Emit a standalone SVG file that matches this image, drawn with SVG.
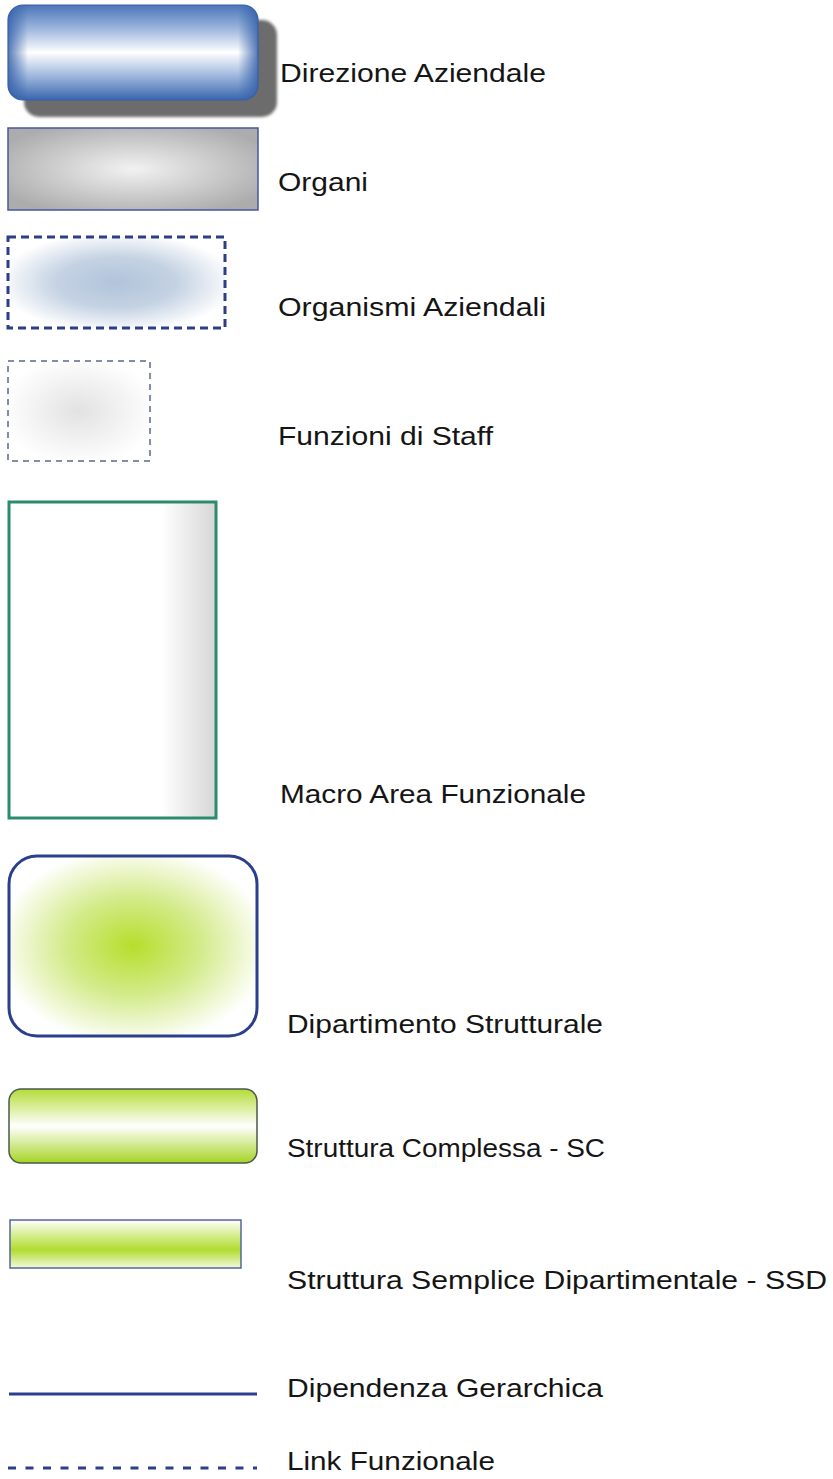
<svg xmlns="http://www.w3.org/2000/svg" width="833" height="1479" viewBox="0 0 833 1479">
<style>
.lbl{font-family:"Liberation Sans",Arial,sans-serif;font-size:25px;fill:#151515}
</style>
<defs>
<linearGradient id="gDirV" x1="0" y1="0" x2="0" y2="1">
<stop offset="0" stop-color="#4a76ba"/>
<stop offset="0.25" stop-color="#9db6dc"/>
<stop offset="0.5" stop-color="#ffffff"/>
<stop offset="0.75" stop-color="#9db6dc"/>
<stop offset="1" stop-color="#3866ad"/>
</linearGradient>
<linearGradient id="gDirH" x1="0" y1="0" x2="1" y2="0">
<stop offset="0" stop-color="#3561aa" stop-opacity="0.85"/>
<stop offset="0.08" stop-color="#3561aa" stop-opacity="0"/>
<stop offset="0.92" stop-color="#3561aa" stop-opacity="0"/>
<stop offset="1" stop-color="#3561aa" stop-opacity="0.85"/>
</linearGradient>
<filter id="blur" x="-10%" y="-10%" width="120%" height="120%">
<feGaussianBlur stdDeviation="1.5"/>
</filter>
<radialGradient id="gOrg" cx="0.5" cy="0.5" r="0.6">
<stop offset="0" stop-color="#f2f2f2"/>
<stop offset="1" stop-color="#acacac"/>
</radialGradient>
<radialGradient id="gOrgz" cx="0.5" cy="0.5" r="0.55">
<stop offset="0" stop-color="#b2c4da"/>
<stop offset="0.5" stop-color="#c4d2e3"/>
<stop offset="1" stop-color="#ffffff"/>
</radialGradient>
<radialGradient id="gStaff" cx="0.5" cy="0.5" r="0.55">
<stop offset="0" stop-color="#e2e2e2"/>
<stop offset="1" stop-color="#ffffff"/>
</radialGradient>
<linearGradient id="gMacro" x1="0" y1="0" x2="1" y2="0">
<stop offset="0" stop-color="#ffffff"/>
<stop offset="0.74" stop-color="#ffffff"/>
<stop offset="1" stop-color="#d6d6d6"/>
</linearGradient>
<radialGradient id="gDip" cx="0.5" cy="0.5" r="0.55">
<stop offset="0" stop-color="#b6de2c"/>
<stop offset="0.5" stop-color="#d4eb8c"/>
<stop offset="1" stop-color="#ffffff"/>
</radialGradient>
<linearGradient id="gSC" x1="0" y1="0" x2="0" y2="1">
<stop offset="0" stop-color="#b4dc38"/>
<stop offset="0.5" stop-color="#ffffff"/>
<stop offset="1" stop-color="#a6d424"/>
</linearGradient>
<linearGradient id="gSSD" x1="0" y1="0" x2="0" y2="1">
<stop offset="0" stop-color="#ffffff"/>
<stop offset="0.3" stop-color="#d8ee94"/>
<stop offset="0.62" stop-color="#b0dc30"/>
<stop offset="1" stop-color="#f3f9dc"/>
</linearGradient>
</defs>

<g id="direzione-aziendale">
<rect x="24" y="20" width="253" height="97" rx="15" fill="#6c6c6c" filter="url(#blur)"/>
<rect x="8" y="5" width="250" height="95" rx="15" fill="url(#gDirV)"/>
<rect x="8" y="5" width="250" height="95" rx="15" fill="url(#gDirH)" stroke="#3a5ea8" stroke-width="1.2"/>
<text class="lbl" x="280" y="82" textLength="266" lengthAdjust="spacingAndGlyphs">Direzione Aziendale</text>
</g>

<g id="organi">
<rect x="8" y="128" width="250" height="82" fill="url(#gOrg)" stroke="#4a55a0" stroke-width="1.5"/>
<text class="lbl" x="278" y="191" textLength="90" lengthAdjust="spacingAndGlyphs">Organi</text>
</g>

<g id="organismi-aziendali">
<rect x="8" y="237" width="217" height="91" fill="url(#gOrgz)" stroke="#2c3e86" stroke-width="3" stroke-dasharray="8 5"/>
<text class="lbl" x="278" y="316" textLength="268" lengthAdjust="spacingAndGlyphs">Organismi Aziendali</text>
</g>

<g id="funzioni-di-staff">
<rect x="8" y="361" width="142" height="100" fill="url(#gStaff)" stroke="#5a6890" stroke-width="1.5" stroke-dasharray="6 5"/>
<text class="lbl" x="278" y="445" textLength="215" lengthAdjust="spacingAndGlyphs">Funzioni di Staff</text>
</g>

<g id="macro-area-funzionale">
<rect x="9" y="502" width="207" height="316" fill="url(#gMacro)" stroke="#2e8a6c" stroke-width="3"/>
<text class="lbl" x="280" y="803" textLength="306" lengthAdjust="spacingAndGlyphs">Macro Area Funzionale</text>
</g>

<g id="dipartimento-strutturale">
<rect x="9" y="856" width="248" height="180" rx="28" fill="url(#gDip)" stroke="#2c3f8c" stroke-width="3"/>
<text class="lbl" x="287" y="1033" textLength="316" lengthAdjust="spacingAndGlyphs">Dipartimento Strutturale</text>
</g>

<g id="struttura-complessa">
<rect x="9" y="1089" width="248" height="74" rx="12" fill="url(#gSC)" stroke="#4a5a48" stroke-width="1.5"/>
<text class="lbl" x="287" y="1157" textLength="318" lengthAdjust="spacingAndGlyphs">Struttura Complessa - SC</text>
</g>

<g id="struttura-semplice-dipartimentale">
<rect x="10" y="1220" width="231" height="48" fill="url(#gSSD)" stroke="#5565a0" stroke-width="1.5"/>
<text class="lbl" x="287" y="1289" textLength="540" lengthAdjust="spacingAndGlyphs">Struttura Semplice Dipartimentale - SSD</text>
</g>

<g id="connectors">
<line x1="9" y1="1394" x2="257" y2="1394" stroke="#2c3f8c" stroke-width="3"/>
<line x1="8" y1="1468" x2="257" y2="1468" stroke="#2c3f8c" stroke-width="3" stroke-dasharray="8 9.5"/>
</g>

<g id="legend-line-labels">
<text class="lbl" x="287" y="1397" textLength="316" lengthAdjust="spacingAndGlyphs">Dipendenza Gerarchica</text>
<text class="lbl" x="287" y="1470" textLength="208" lengthAdjust="spacingAndGlyphs">Link Funzionale</text>
</g>
</svg>
